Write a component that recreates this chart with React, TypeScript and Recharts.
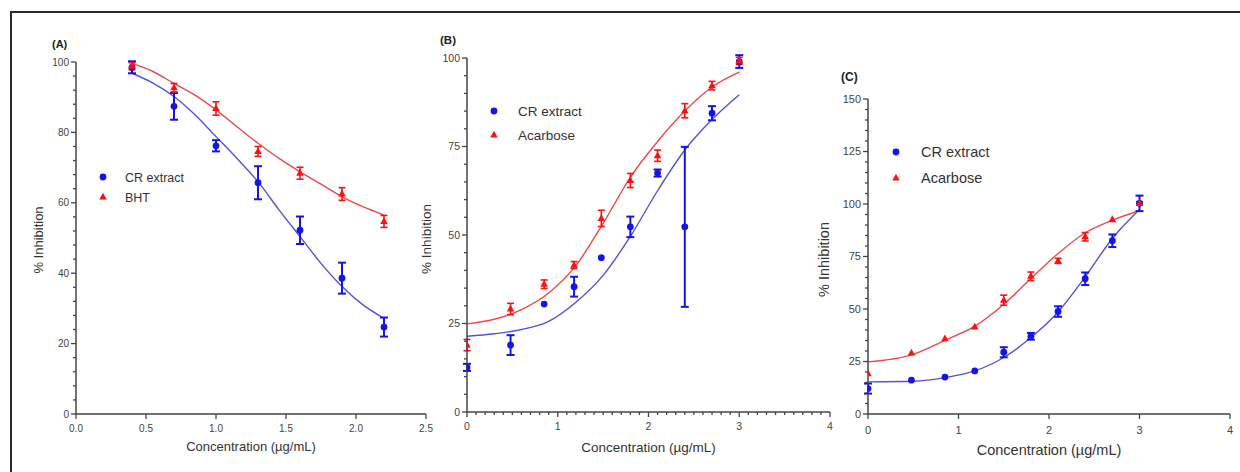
import React from "react";
import {
  ComposedChart,
  Line,
  Scatter,
  ErrorBar,
  XAxis,
  YAxis,
  Legend,
  Label,
} from "recharts";

// (A) CR extract vs BHT
const concA = [0.4, 0.7, 1.0, 1.3, 1.6, 1.9, 2.2];
const crA = [98.5, 87.4, 76.2, 65.7, 52.2, 38.6, 24.7];
const crErrA = [1.7, 3.8, 1.6, 4.7, 3.9, 4.4, 2.7];
const bhtA = [98.8, 92.7, 86.8, 74.6, 68.4, 62.5, 54.7];
const bhtErrA = [1, 1.2, 1.9, 1.4, 1.7, 1.8, 1.7];
const fitConcA = [0.4, 0.55, 0.7, 0.85, 1.0, 1.15, 1.3, 1.45, 1.6, 1.75, 1.9, 2.05, 2.2];
const crFitA = [96.8, 94, 90.2, 85, 78.8, 72.6, 66, 58, 50.4, 42.8, 36.2, 31, 27.2];
const bhtFitA = [99.6, 97.3, 93.9, 90.6, 86.4, 81.6, 76.9, 72.6, 68.8, 65.3, 61.7, 58.9, 56.5];

// (B) CR extract vs Acarbose
const concB = [0, 0.48, 0.85, 1.18, 1.48, 1.8, 2.1, 2.4, 2.7, 3.0];
const crB = [12.6, 18.9, 30.5, 35.4, 43.6, 52.3, 67.5, 52.3, 84.4, 99];
const crErrB = [1, 2.8, 0, 2.8, 0, 2.9, 1, 22.6, 2, 1.8];
const acbB = [18.9, 29.1, 36.1, 41.5, 54.7, 65.4, 72.4, 85.1, 92.2, 99.2];
const acbErrB = [1.6, 1.6, 1.2, 1, 2.3, 2, 1.6, 2, 1.2, 1];
const fitConcB = [0, 0.3, 0.6, 0.9, 1.2, 1.5, 1.8, 2.1, 2.4, 2.7, 3.0];
const crFitB = [21.4, 22.1, 23.3, 25.6, 31, 38.6, 49.6, 62.5, 74, 82.6, 89.6];
const acbFitB = [24.9, 26.2, 28.9, 33.6, 41.4, 53.3, 66.3, 76.4, 85, 91.8, 96];

// (C) CR extract vs Acarbose
const concC = [0, 0.48, 0.85, 1.18, 1.5, 1.8, 2.1, 2.4, 2.7, 3.0];
const crC = [12.1, 16.1, 17.6, 20.5, 29.4, 37.0, 48.8, 64.4, 82.5, 100.3];
const crErrC = [2.4, 0, 0, 0, 2.4, 1.6, 2.5, 3, 3, 3.7];
const acbC = [19.2, 29.1, 35.9, 41.5, 54.2, 65.6, 72.9, 84.4, 92.6, 100.3];
const acbErrC = [0, 0, 0, 0, 2.4, 2, 1.2, 2, 0, 0.8];
const fitConcC = [0, 0.5, 0.85, 1.18, 1.5, 1.8, 2.1, 2.4, 2.7, 3.0];
const crFitC = [15.3, 15.6, 17.3, 20.5, 26.9, 36.4, 48.6, 65.3, 83.6, 97.4];
const acbFitC = [24.8, 28.4, 35.1, 41.8, 52.3, 64.5, 76.4, 86.3, 92.3, 96.8];

// ticks
const xTicksA = [0, 0.5, 1.0, 1.5, 2.0, 2.5];
const yTicksA = [0, 20, 40, 60, 80, 100];
const xTicksBC = [0, 1, 2, 3, 4];
const yTicksB = [0, 25, 50, 75, 100];
const yTicksC = [0, 25, 50, 75, 100, 125, 150];

const BLUE = "#1414e8";
const BLUE_LINE = "#5252dc";
const RED = "#ff1010";
const RED_LINE = "#f04848";
const AXIS = "#444";
const FONT = "'Liberation Sans', Arial, sans-serif";

const minorTicks = (step: number, max: number, majors: number[]) => {
  const out: number[] = [];
  for (let i = 1; i * step < max - 1e-9; i++) {
    const v = +(i * step).toFixed(4);
    if (!majors.some((m) => Math.abs(m - v) < 1e-9)) out.push(v);
  }
  return out;
};

const pts = (xs: number[], ys: number[], errs?: number[]) =>
  xs.map((x, i) => ({ x, y: ys[i], err: errs ? errs[i] : undefined }));

const isMajor = (v: number, majors: number[]) =>
  majors.some((m) => Math.abs(m - v) < 1e-9);

const Circle = (p: any) => <circle cx={p.cx} cy={p.cy} r={3.4} fill={BLUE} />;
const Tri = (p: any) => (
  <path
    d={`M${p.cx},${p.cy - 4.2}L${p.cx - 3.8},${p.cy + 2.6}L${p.cx + 3.8},${p.cy + 2.6}Z`}
    fill={RED}
  />
);

const Panel = ({ cfg }: { cfg: any }) => {
  const H = 472;
  const yAxisW = 30;
  const xAxisH = 44;
  const margin = {
    top: cfg.plot.top,
    right: cfg.left + cfg.width - cfg.plot.right,
    bottom: H - cfg.plot.bottom - xAxisH,
    left: cfg.plot.left - cfg.left - yAxisW,
  };
  const xAll = [...cfg.xMajor, ...cfg.xMinor];
  const yAll = [...cfg.yMajor, ...cfg.yMinor];

  const xTick = (p: any) => {
    const major = isMajor(p.payload.value, cfg.xMajor);
    return (
      <g>
        <line x1={p.x} x2={p.x} y1={p.y} y2={p.y + (major ? 5 : 3)} stroke={AXIS} strokeWidth={1.3} />
        {major && (
          <text x={p.x} y={p.y + cfg.xTickDy} textAnchor="middle" fontSize={cfg.tickFont} fill="#444" fontFamily={FONT}>
            {cfg.xFmt(p.payload.value)}
          </text>
        )}
      </g>
    );
  };
  const yTick = (p: any) => {
    const major = isMajor(p.payload.value, cfg.yMajor);
    return (
      <g>
        <line x1={p.x - (major ? 5 : 3)} x2={p.x} y1={p.y} y2={p.y} stroke={AXIS} strokeWidth={1.3} />
        {major && (
          <text x={p.x - 7} y={p.y} dy="0.36em" textAnchor="end" fontSize={cfg.tickFont} fill="#444" fontFamily={FONT}>
            {p.payload.value}
          </text>
        )}
      </g>
    );
  };

  const legend = () => (
    <svg width={160} height={cfg.legendGap + 22} style={{ display: "block" }}>
      <circle cx={6} cy={10} r={3.4} fill={BLUE} />
      <path d={`M6,${10 + cfg.legendGap - 4.2}L2.2,${10 + cfg.legendGap + 2.6}L9.8,${10 + cfg.legendGap + 2.6}Z`} fill={RED} />
      <text x={6 + cfg.legendDx} y={10} dy="0.36em" fontSize={cfg.legendFont} fill="#333" fontFamily={FONT}>
        CR extract
      </text>
      <text x={6 + cfg.legendDx} y={10 + cfg.legendGap} dy="0.36em" fontSize={cfg.legendFont} fill="#333" fontFamily={FONT}>
        {cfg.refName}
      </text>
    </svg>
  );

  return (
    <div style={{ position: "absolute", left: cfg.left, top: 0, width: cfg.width, height: H }}>
      <div
        style={{
          position: "absolute",
          left: cfg.tag.x - cfg.left,
          top: cfg.tag.y - cfg.tag.size * 0.6,
          fontSize: cfg.tag.size,
          lineHeight: 1.2,
          fontWeight: "bold",
          fontFamily: FONT,
          color: "#222",
          zIndex: 2,
        }}
      >
        {cfg.tag.text}
      </div>
      <ComposedChart width={cfg.width} height={H} margin={margin}>
        <XAxis
          type="number"
          dataKey="x"
          domain={cfg.xDomain}
          ticks={xAll}
          interval={0}
          tickLine={false}
          tickSize={0}
          tickMargin={0}
          tick={xTick}
          height={xAxisH}
          allowDataOverflow
          axisLine={{ stroke: AXIS, strokeWidth: 1.5 }}
        >
          <Label
            content={(p: any) => (
              <text
                x={p.viewBox.x + p.viewBox.width / 2}
                y={p.viewBox.y + cfg.xTitleDy}
                textAnchor="middle"
                fontSize={cfg.titleFont}
                fill="#333"
                fontFamily={FONT}
              >
                Concentration (µg/mL)
              </text>
            )}
          />
        </XAxis>
        <YAxis
          type="number"
          domain={cfg.yDomain}
          ticks={yAll}
          interval={0}
          tickLine={false}
          tickSize={0}
          tickMargin={0}
          tick={yTick}
          width={yAxisW}
          allowDataOverflow
          axisLine={{ stroke: AXIS, strokeWidth: 1.5 }}
        >
          <Label
            content={(p: any) => {
              const cx = p.viewBox.x + p.viewBox.width - cfg.yTitleOffset;
              const cy = p.viewBox.y + p.viewBox.height / 2 + cfg.yTitleShift;
              return (
                <text
                  x={cx}
                  y={cy}
                  dy="0.36em"
                  textAnchor="middle"
                  transform={`rotate(-90, ${cx}, ${cy})`}
                  fontSize={cfg.titleFont}
                  fill="#333"
                  fontFamily={FONT}
                >
                  % Inhibition
                </text>
              );
            }}
          />
        </YAxis>
        <Legend
          layout="vertical"
          align="center"
          verticalAlign="middle"
          wrapperStyle={{ left: cfg.legendPos.x - cfg.left - 6, top: cfg.legendPos.y - 10, width: 160 }}
          content={legend}
        />
        <Line
          data={cfg.crFit}
          dataKey="y"
          type="monotone"
          stroke={BLUE_LINE}
          strokeWidth={1.4}
          dot={false}
          activeDot={false}
          isAnimationActive={false}
        />
        <Line
          data={cfg.refFit}
          dataKey="y"
          type="monotone"
          stroke={RED_LINE}
          strokeWidth={1.4}
          dot={false}
          activeDot={false}
          isAnimationActive={false}
        />
        <Scatter data={cfg.cr} dataKey="y" shape={Circle} isAnimationActive={false}>
          <ErrorBar dataKey="err" direction="y" width={4} stroke={BLUE} strokeWidth={2} isAnimationActive={false} />
        </Scatter>
        <Scatter data={cfg.ref} dataKey="y" shape={Tri} isAnimationActive={false}>
          <ErrorBar dataKey="err" direction="y" width={3.5} stroke={RED} strokeWidth={1.6} isAnimationActive={false} />
        </Scatter>
      </ComposedChart>
    </div>
  );
};

const panels = [
  {
    left: 0,
    width: 440,
    plot: { left: 76, right: 426, top: 62, bottom: 414 },
    xDomain: [0, 2.5],
    yDomain: [0, 100],
    xMajor: xTicksA,
    xMinor: [],
    yMajor: yTicksA,
    yMinor: minorTicks(4, 100, yTicksA),
    xFmt: (v: number) => v.toFixed(1),
    xTickDy: 17.5,
    tickFont: 10,
    titleFont: 13,
    xTitleDy: 37,
    yTitleOffset: 38,
    yTitleShift: 2,
    legendFont: 12.5,
    legendGap: 20,
    legendDx: 22,
    legendPos: { x: 103, y: 177 },
    refName: "BHT",
    tag: { text: "(A)", x: 52, y: 44.5, size: 11 },
    cr: pts(concA, crA, crErrA),
    ref: pts(concA, bhtA, bhtErrA),
    crFit: pts(fitConcA, crFitA),
    refFit: pts(fitConcA, bhtFitA),
  },
  {
    left: 405,
    width: 435,
    plot: { left: 467, right: 830, top: 58, bottom: 412 },
    xDomain: [0, 4],
    yDomain: [0, 100],
    xMajor: xTicksBC,
    xMinor: minorTicks(0.1, 4, xTicksBC),
    yMajor: yTicksB,
    yMinor: minorTicks(5, 100, yTicksB),
    xFmt: (v: number) => String(v),
    xTickDy: 18,
    tickFont: 10.5,
    titleFont: 13.5,
    xTitleDy: 39.5,
    yTitleOffset: 41,
    yTitleShift: 4,
    legendFont: 13.5,
    legendGap: 24,
    legendDx: 24,
    legendPos: { x: 494, y: 111 },
    refName: "Acarbose",
    tag: { text: "(B)", x: 440, y: 40.5, size: 11.5 },
    cr: pts(concB, crB, crErrB),
    ref: pts(concB, acbB, acbErrB),
    crFit: pts(fitConcB, crFitB),
    refFit: pts(fitConcB, acbFitB),
  },
  {
    left: 805,
    width: 435,
    plot: { left: 868, right: 1230, top: 99, bottom: 414 },
    xDomain: [0, 4],
    yDomain: [0, 150],
    xMajor: xTicksBC,
    xMinor: [],
    yMajor: yTicksC,
    yMinor: minorTicks(5, 150, yTicksC),
    xFmt: (v: number) => String(v),
    xTickDy: 20,
    tickFont: 11,
    titleFont: 14.5,
    xTitleDy: 41,
    yTitleOffset: 44,
    yTitleShift: 3,
    legendFont: 14.5,
    legendGap: 26,
    legendDx: 25,
    legendPos: { x: 896, y: 152 },
    refName: "Acarbose",
    tag: { text: "(C)", x: 841, y: 77.5, size: 12 },
    cr: pts(concC, crC, crErrC),
    ref: pts(concC, acbC, acbErrC),
    crFit: pts(fitConcC, crFitC),
    refFit: pts(fitConcC, acbFitC),
  },
];

export default function App() {
  return (
    <div
      style={{
        position: "fixed",
        left: 0,
        top: 0,
        width: 1240,
        height: 472,
        overflow: "hidden",
        background: "#fff",
        fontFamily: FONT,
      }}
    >
      <div
        style={{
          position: "absolute",
          left: 10,
          top: 11,
          width: 1260,
          height: 500,
          borderTop: "2px solid #2a2a2a",
          borderLeft: "2px solid #2a2a2a",
        }}
      />
      {panels.map((cfg) => (
        <Panel key={cfg.tag.text} cfg={cfg} />
      ))}
    </div>
  );
}
